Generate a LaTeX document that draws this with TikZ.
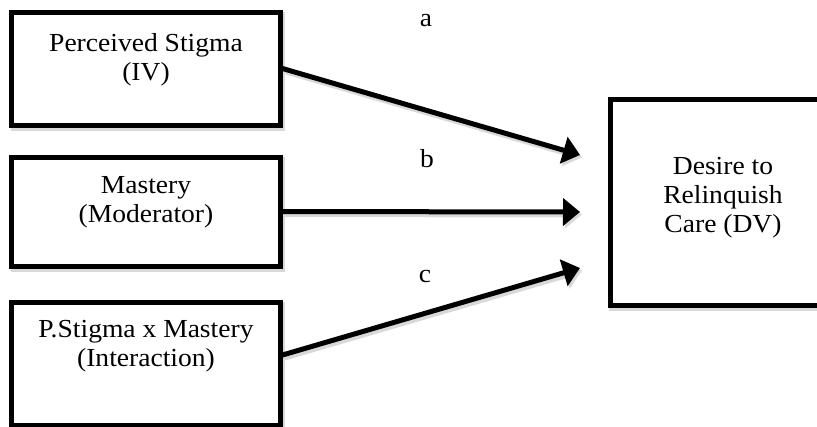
\documentclass[tikz,border=0pt]{standalone}
\usepackage{fontspec}
\setmainfont{Liberation Serif}[FakeStretch=1.06]
\usetikzlibrary{arrows.meta,calc}
\begin{document}
\begin{tikzpicture}[x=1pt,y=-1pt,
  shadowed/.style={preaction={draw=black!15, line width=6pt,
      transform canvas={shift={(2pt,-2.5pt)}}}},
  varbox/.style={draw=black, line width=5pt, fill=white, inner sep=0pt, shadowed},
  boxtext/.style={align=center, inner sep=0pt, anchor=base,
      font=\fontsize{26}{29}\selectfont},
  pathlabel/.style={inner sep=0pt, anchor=base, font=\fontsize{26}{29}\selectfont},
  effect/.style={line width=5pt, -{Triangle[length=17pt,width=27pt]}, shadowed}
]
\useasboundingbox (0,0) rectangle (817,426);
\clip (0,0) rectangle (817,426);
\fill[white] (0,0) rectangle (817,426);

% predictor boxes
\node[varbox, minimum width=268.5pt, minimum height=113pt] (iv)  at (145.75,68.5) {};
\node[varbox, minimum width=268.5pt, minimum height=109pt] (mod) at (145.75,211.5) {};
\node[varbox, minimum width=268.5pt, minimum height=123pt] (int) at (145.75,363.5) {};
% outcome box, running past the right edge
\node[varbox, minimum width=232pt, minimum height=206pt] (dv) at (726,202) {};

% box texts, placed by the baseline of their last line
\node[boxtext] (ivtext)  at (146,80)  {Perceived Stigma\\(IV)};
\node[boxtext] (modtext) at (146,222) {Mastery\\(Moderator)};
\node[boxtext] (inttext) at (146,366) {P.Stigma x Mastery\\(Interaction)};
\node[boxtext] (dvtext)  at (723,232) {Desire to\\Relinquish\\Care (DV)};

% arrow tips stop short of the outcome box
\coordinate (tipa) at (580,155);
\coordinate (tipb) at (580,212);
\coordinate (tipc) at (580,268);

\draw[effect] (iv.east) -- (tipa);
\draw[effect] (mod.east) -- (tipb);
\draw[effect] ($(int.east)+(0,-8.5)$) -- (tipc);

\node[pathlabel] (la) at (426,26)  {a};
\node[pathlabel] (lb) at (427,167) {b};
\node[pathlabel] (lc) at (425,282) {c};
\end{tikzpicture}
\end{document}
